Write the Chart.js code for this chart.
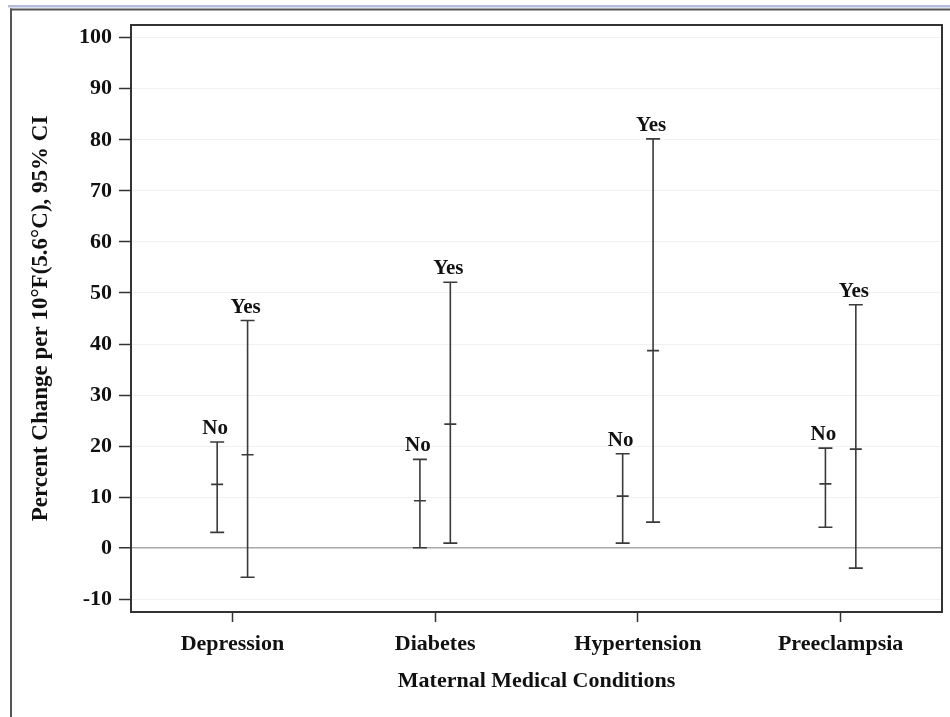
<!DOCTYPE html>
<html>
<head>
<meta charset="utf-8">
<script src="https://cdn.jsdelivr.net/npm/chart.js@4/dist/chart.umd.min.js"></script>
<style>
  html, body { margin: 0; padding: 0; background: #fff; }
  #wrap { width: 950px; height: 717px; position: relative; }
</style>
</head>
<body>
<div id="wrap"><canvas id="c" width="950" height="717"></canvas></div>
<script>
// Maternal medical conditions and the percent change per 10°F with 95% CI
const categories = ['Depression', 'Diabetes', 'Hypertension', 'Preeclampsia'];
const groupNames = ['No', 'Yes'];

const noEstimate = [12.5, 9.3, 10.2, 12.6];
const noLower    = [3.1, 0.1, 1.0, 4.1];
const noUpper    = [20.8, 17.4, 18.5, 19.6];

const yesEstimate = [18.3, 24.3, 38.7, 19.4];
const yesLower    = [-5.7, 1.0, 5.1, -3.9];
const yesUpper    = [44.6, 52.1, 80.2, 47.7];

const yTickValues = [-10, 0, 10, 20, 30, 40, 50, 60, 70, 80, 90, 100];

const SERIF = '"Liberation Serif", "Times New Roman", serif';
const INK = '#3a3a3a';

const groups = [
  { name: groupNames[0], est: noEstimate, lo: noLower, hi: noUpper },
  { name: groupNames[1], est: yesEstimate, lo: yesLower, hi: yesUpper }
];

// caps, point-estimate ticks and group labels on each interval
const intervalMarks = {
  id: 'intervalMarks',
  afterDatasetsDraw(chart) {
    const ctx = chart.ctx;
    const y = chart.scales.y;
    ctx.save();
    groups.forEach((g, di) => {
      const meta = chart.getDatasetMeta(di);
      meta.data.forEach((bar, i) => {
        const x = bar.x;
        const yHi = y.getPixelForValue(g.hi[i]);
        const yLo = y.getPixelForValue(g.lo[i]);
        const yEst = y.getPixelForValue(g.est[i]);
        ctx.strokeStyle = INK;
        ctx.lineWidth = 1.6;
        ctx.beginPath();
        ctx.moveTo(x - 7, yHi); ctx.lineTo(x + 7, yHi);
        ctx.moveTo(x - 7, yLo); ctx.lineTo(x + 7, yLo);
        ctx.moveTo(x - 6, yEst); ctx.lineTo(x + 6, yEst);
        ctx.stroke();
        ctx.fillStyle = '#111';
        ctx.font = 'bold 21px ' + SERIF;
        ctx.textAlign = 'center';
        ctx.textBaseline = 'alphabetic';
        ctx.fillText(g.name, x - 2, yHi - 8);
      });
    });
    ctx.restore();
  }
};

// plot frame and the page frame around the figure
const frames = {
  id: 'frames',
  beforeDraw(chart) {
    const ctx = chart.ctx;
    ctx.save();
    ctx.fillStyle = '#fff';
    ctx.fillRect(0, 0, chart.width, chart.height);
    ctx.fillStyle = '#b4bedc';
    ctx.fillRect(8, 5, chart.width - 8, 2.5);
    ctx.fillStyle = '#555';
    ctx.fillRect(10, 8.5, chart.width - 10, 2);
    ctx.fillRect(10, 8.5, 2, chart.height - 8.5);
    ctx.restore();
  },
  afterDraw(chart) {
    const a = chart.chartArea;
    const ctx = chart.ctx;
    ctx.save();
    ctx.strokeStyle = '#333';
    ctx.lineWidth = 2;
    ctx.beginPath();
    ctx.moveTo(a.left, a.top);
    ctx.lineTo(a.right, a.top);
    ctx.lineTo(a.right, a.bottom);
    ctx.stroke();
    ctx.restore();
  }
};

new Chart(document.getElementById('c'), {
  type: 'bar',
  data: {
    labels: categories,
    datasets: groups.map(g => ({
      label: g.name,
      data: g.lo.map((lo, i) => [lo, g.hi[i]]),
      backgroundColor: INK,
      borderWidth: 0,
      categoryPercentage: 0.3,
      barPercentage: 1,
      maxBarThickness: 1.6
    }))
  },
  options: {
    responsive: false,
    animation: false,
    devicePixelRatio: 1,
    layout: { padding: { left: 0, top: 25, right: 8, bottom: 0 } },
    plugins: { legend: { display: false }, tooltip: { enabled: false } },
    scales: {
      x: {
        type: 'category',
        offset: true,
        grid: {
          offset: false,
          drawOnChartArea: false,
          drawTicks: true,
          tickLength: 10,
          tickColor: '#333',
          tickWidth: 1.5
        },
        border: { color: '#333', width: 2 },
        ticks: {
          color: '#111',
          font: { family: SERIF, size: 22, weight: 'bold' },
          padding: 9,
          maxRotation: 0
        },
        title: {
          display: true,
          text: 'Maternal Medical Conditions',
          color: '#111',
          font: { family: SERIF, size: 22, weight: 'bold' },
          padding: { top: 0, bottom: 22 }
        },
        afterFit(scale) { scale.height = 105; }
      },
      y: {
        min: -12.5,
        max: 102.5,
        afterBuildTicks(scale) { scale.ticks = yTickValues.map(v => ({ value: v })); },
        grid: {
          color: ctx => (ctx.tick && ctx.tick.value === 0) ? '#a8a8a8' : '#f1f1f1',
          lineWidth: ctx => (ctx.tick && ctx.tick.value === 0) ? 1.5 : 1,
          drawTicks: true,
          tickLength: 12,
          tickColor: '#333',
          tickWidth: 1.5
        },
        border: { color: '#333', width: 2 },
        ticks: {
          color: '#111',
          font: { family: SERIF, size: 22, weight: 'bold' },
          padding: 7
        },
        title: {
          display: true,
          text: 'Percent Change per 10°F(5.6°C), 95% CI',
          color: '#111',
          font: { family: SERIF, size: 23, weight: 'bold' },
          padding: { top: 27, bottom: 0 }
        },
        afterFit(scale) { scale.width = 131; }
      }
    }
  },
  plugins: [frames, intervalMarks]
});
</script>
</body>
</html>
